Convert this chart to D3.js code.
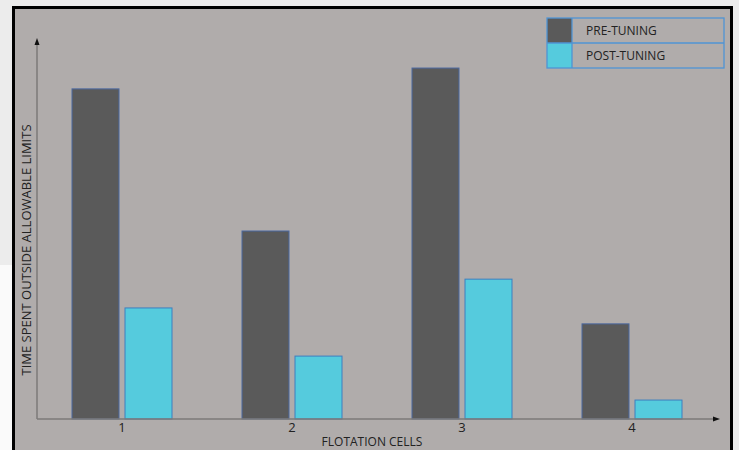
<!DOCTYPE html>
<html><head><meta charset="utf-8">
<script src="https://cdn.jsdelivr.net/npm/d3@7"></script>
<style>body{margin:0;background:#ebebeb;}svg{display:block;}</style>
</head><body>
<svg id="c" width="739" height="450"></svg>
<script>
const categories = ["1", "2", "3", "4"];
const seriesNames = ["PRE-TUNING", "POST-TUNING"];
const preTuning = [87.1, 49.6, 92.6, 25.1];
const postTuning = [29.3, 16.6, 36.9, 5.0];
const xTitle = "FLOTATION CELLS";
const yTitle = "TIME SPENT OUTSIDE ALLOWABLE LIMITS";

const colors = ["#5a5a5a", "#55cbdd"];
const strokes = ["#4a68a0", "#3d7fc0"];
const font = "'Open Sans',sans-serif";

const svg = d3.select("#c");
svg.append("rect").attr("x",0).attr("y",0).attr("width",739).attr("height",450).attr("fill","#ececec");
svg.append("rect").attr("x",0).attr("y",265).attr("width",60).attr("height",185).attr("fill","#fafafa");
svg.append("rect").attr("x",13.5).attr("y",7.5).attr("width",718).attr("height",450)
  .attr("fill","#b0acab").attr("stroke","#000").attr("stroke-width",3);

const x0 = 37, x1 = 717, yBase = 419, yTop = 40;
const x = d3.scaleBand().domain(categories).range([x0, x1]).padding(0);
const y = d3.scaleLinear().domain([0, 100]).range([yBase, yTop]);
const barW = 47, gap = 6;
const inner = d3.scaleBand().domain(seriesNames).range([-(barW + gap/2), barW + gap/2])
  .paddingInner(gap/(barW+gap)).paddingOuter(0);

const data = categories.map((c,i)=>({c, vals:[preTuning[i], postTuning[i]]}));
const g = svg.append("g");
data.forEach(d=>{
  d.vals.forEach((v,j)=>{
    const cx = x(d.c) + x.bandwidth()/2;
    g.append("rect")
      .attr("x", cx + inner(seriesNames[j]))
      .attr("y", y(v))
      .attr("width", inner.bandwidth())
      .attr("height", yBase - y(v))
      .attr("fill", colors[j]).attr("stroke", strokes[j]).attr("stroke-width",1);
  });
});

const axisColor = "#7c7a79";
svg.append("line").attr("x1",x0).attr("x2",x0).attr("y1",yBase).attr("y2",yTop+4).attr("stroke",axisColor).attr("stroke-width",1.5);
svg.append("line").attr("x1",x0).attr("x2",x1-2).attr("y1",yBase).attr("y2",yBase).attr("stroke",axisColor).attr("stroke-width",1.5);
svg.append("path").attr("d",`M${x0-2.5},${yTop+5}L${x0},${yTop-2}L${x0+2.5},${yTop+5}Z`).attr("fill","#111");
svg.append("path").attr("d",`M${x1-4},${yBase-2.5}L${x1+3},${yBase}L${x1-4},${yBase+2.5}Z`).attr("fill","#111");

const xAxis = d3.axisBottom(x).tickSize(0).tickPadding(4);
const ax = svg.append("g").attr("transform",`translate(0,${yBase})`).call(xAxis);
ax.select(".domain").remove();
ax.selectAll("text").attr("font-family",font).attr("font-size",13).attr("fill","#222");

svg.append("text").attr("x",372).attr("y",446).attr("text-anchor","middle")
  .attr("font-family",font).attr("font-size",12).attr("fill","#222").text(xTitle);
svg.append("text").attr("transform","translate(31,250) rotate(-90)").attr("text-anchor","middle")
  .attr("font-family",font).attr("font-size",13).attr("fill","#222").text(yTitle);

const lx = 547, ly = 18, lw = 177, rh = 25, sw = 25;
const leg = svg.append("g");
seriesNames.forEach((s,i)=>{
  leg.append("rect").attr("x",lx).attr("y",ly+i*rh).attr("width",sw).attr("height",rh).attr("fill",colors[i]);
  leg.append("text").attr("x",lx+sw+14).attr("y",ly+i*rh+17).attr("font-family",font).attr("font-size",12).attr("fill","#222").text(s);
});
leg.append("rect").attr("x",lx).attr("y",ly).attr("width",lw).attr("height",rh*2).attr("fill","none").attr("stroke","#4f94d4").attr("stroke-width",1.3);
leg.append("line").attr("x1",lx).attr("x2",lx+lw).attr("y1",ly+rh).attr("y2",ly+rh).attr("stroke","#4f94d4").attr("stroke-width",1.3);
leg.append("line").attr("x1",lx+sw).attr("x2",lx+sw).attr("y1",ly).attr("y2",ly+rh*2).attr("stroke","#4f94d4").attr("stroke-width",1.3);
</script>
</body></html>
